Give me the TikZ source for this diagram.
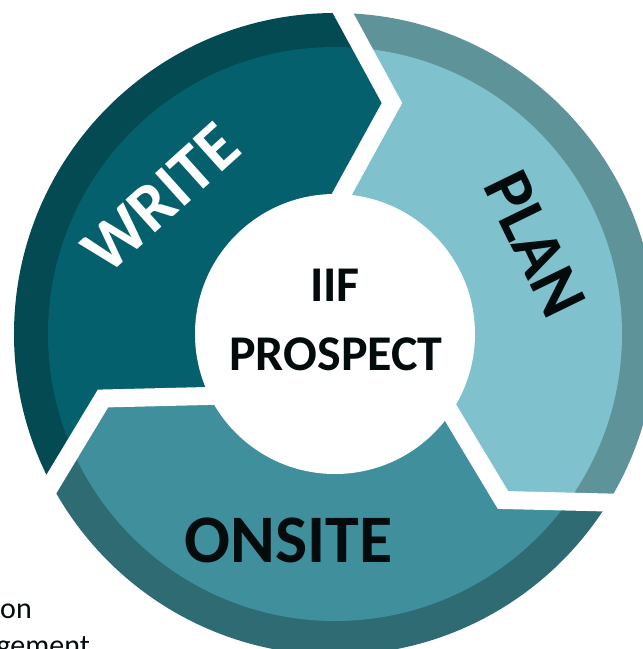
\documentclass[tikz,border=0pt]{standalone}
\usepackage{fontspec}
\setmainfont{Carlito}
\definecolor{writeD}{HTML}{034A52}
\definecolor{writeL}{HTML}{04606C}
\definecolor{planD}{HTML}{5E9399}
\definecolor{planL}{HTML}{7FC1CC}
\definecolor{onsD}{HTML}{2E6B73}
\definecolor{onsL}{HTML}{3F909C}
\definecolor{ink}{HTML}{030B0D}
\begin{document}
\begin{tikzpicture}[x=1pt,y=1pt,
  seglabel/.style={font=\fontsize{68pt}{80pt}\selectfont\bfseries, inner sep=0pt},
  hubtext/.style={font=\fontsize{50pt}{60pt}\selectfont\bfseries, text=ink, inner sep=0pt},
  bodytext/.style={font=\fontsize{30pt}{37pt}\selectfont, text=ink, inner sep=0pt},
  gapline/.style={white, line width=18pt, line join=miter},
]
\useasboundingbox (-335,-315) rectangle (308,334);
\clip (-335,-315) rectangle (308,334);
% boundary points
\coordinate (A1x) at (-15.9,364.9); \coordinate (T1) at (57,231);   \coordinate (B1x) at (-12.3,104.9);
\coordinate (A2x) at (322.5,-169.7); \coordinate (T2) at (168,-166); \coordinate (B2x) at (95.4,-45.2);
\coordinate (A3x) at (-308.8,-191.8); \coordinate (T3) at (-232,-64.5); \coordinate (B3x) at (-86,-61);
% WRITE segment
\begin{scope}
  \clip (0,0) -- (B1x) -- (T1) -- (A1x) -- (110:600) -- (160:600) -- (205:600) -- (A3x) -- (T3) -- (B3x) -- cycle;
  \fill[writeD] (0,0) circle[radius=321];
  \fill[writeL] (0,0) circle[radius=287];
\end{scope}
% PLAN segment
\begin{scope}
  \clip (0,0) -- (B2x) -- (T2) -- (A2x) -- (-20:600) -- (30:600) -- (80:600) -- (A1x) -- (T1) -- (B1x) -- cycle;
  \fill[planD] (0,0) circle[radius=321];
  \fill[planL] (0,0) circle[radius=287];
\end{scope}
% ONSITE segment
\begin{scope}
  \clip (0,0) -- (B3x) -- (T3) -- (A3x) -- (225:600) -- (270:600) -- (315:600) -- (A2x) -- (T2) -- (B2x) -- cycle;
  \fill[onsD] (0,0) circle[radius=321];
  \fill[onsL] (0,0) circle[radius=287];
\end{scope}
% gaps
\draw[gapline] (A1x) -- (T1) -- (B1x);
\draw[gapline] (A2x) -- (T2) -- (B2x);
\draw[gapline] (A3x) -- (T3) -- (B3x);
% hub
\node[circle, fill=white, minimum size=280pt, inner sep=0pt] (hub) at (0,0) {};
\node[hubtext, anchor=base] (iif) at (0,33) {IIF};
\node[hubtext, anchor=base] (prospect) at (1,-36) {PROSPECT};
% labels
\node[seglabel, text=white, rotate=42] (write) at (-174,136) {WRITE};
\node[seglabel, text=ink, rotate=-64] (plan) at (200,90) {PLAN};
\node[seglabel, text=ink, anchor=base] (onsite) at (-46.5,-228) {ONSITE};
% cut-off body text
\node[bodytext, anchor=base east] (on) at (-303,-284) {on};
\node[bodytext, anchor=base east] (gement) at (-245,-321) {gement};
\end{tikzpicture}
\end{document}
